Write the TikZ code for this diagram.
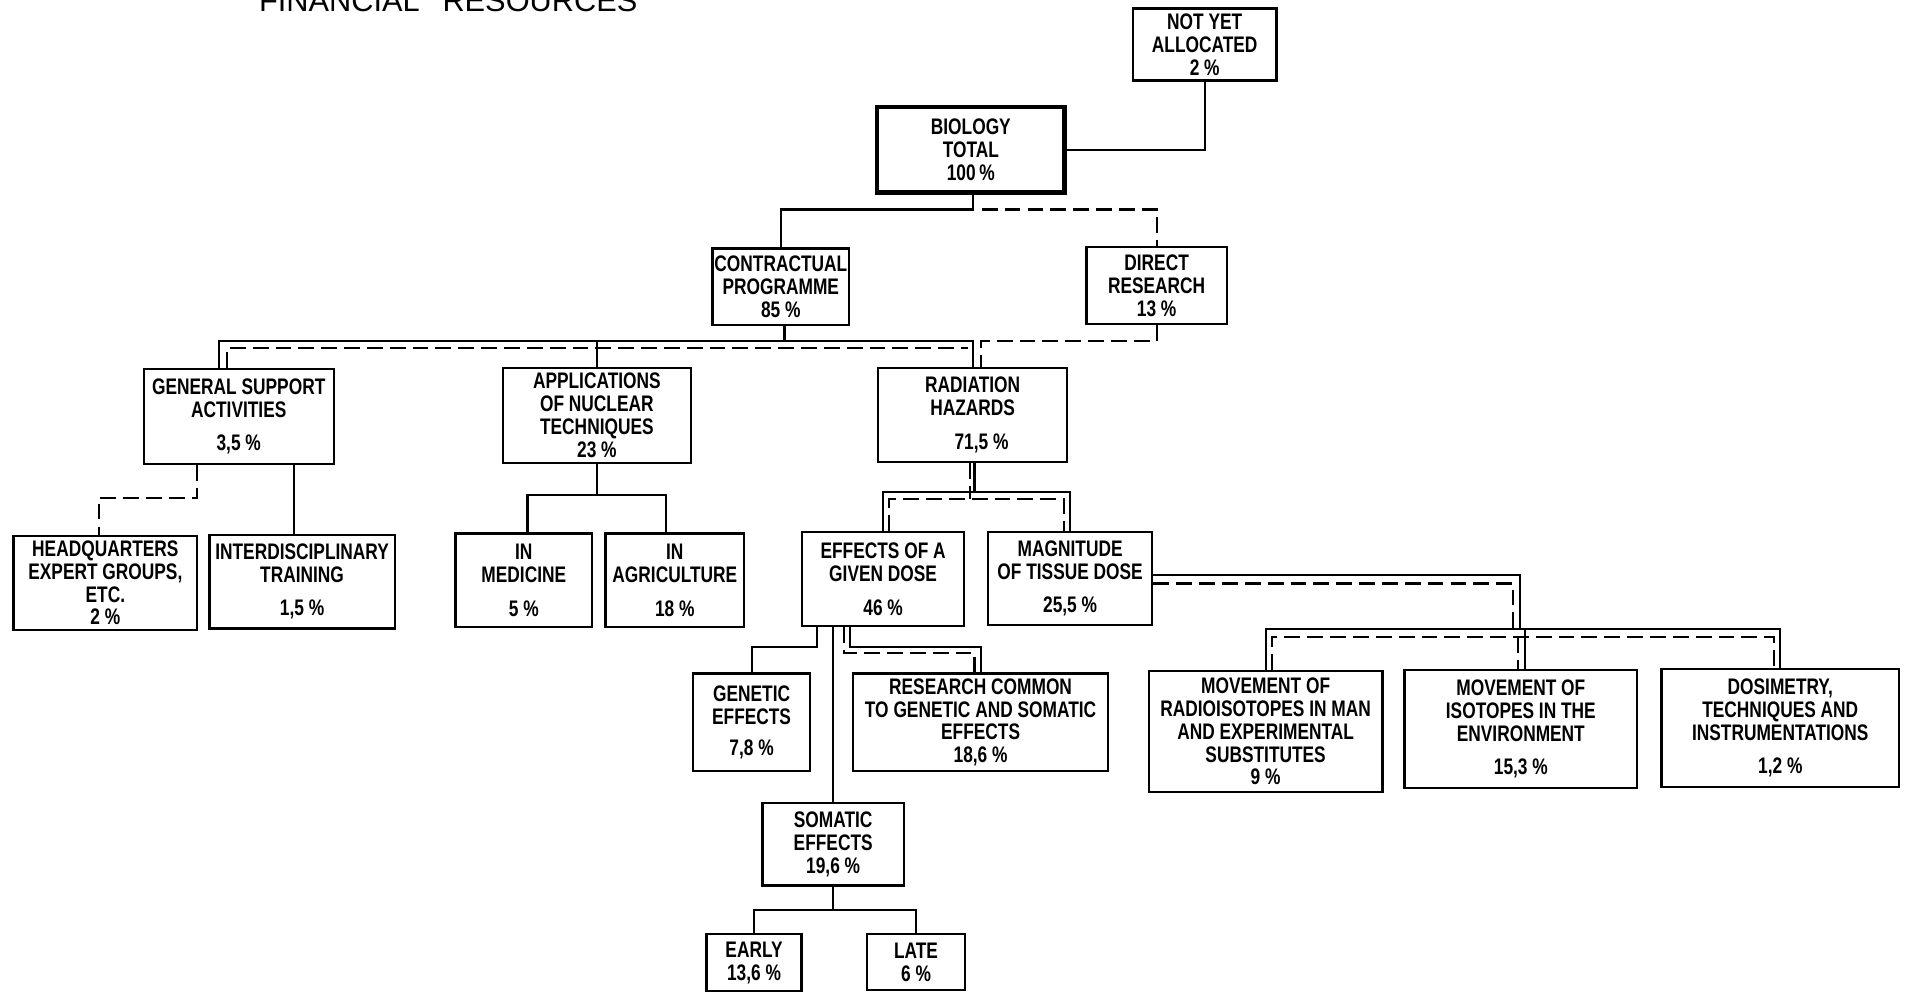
\documentclass[tikz,border=0pt]{standalone}
\usepackage{fontspec}
\setmainfont{Liberation Sans}[FakeStretch=0.77]
\newfontfamily\titlefont{Liberation Sans}
\usetikzlibrary{calc}

\begin{document}
\begin{tikzpicture}[x=0.2436mm, y=-0.2436mm,
  box/.style={draw, line width=1.3pt, align=center, inner sep=0pt,
    font=\fontsize{12.8}{13}\selectfont\bfseries},
  sz/.style 2 args={minimum width=#1*0.2436mm, minimum height=#2*0.2436mm},
  dsh/.style={dash pattern=on 9pt off 4pt},
  every path/.style={line width=1.2pt}]
\useasboundingbox[fill=white] (0,0) rectangle (1568,814);

\node[anchor=base west, font=\titlefont\fontsize{17.5}{18}\selectfont] (title) at (207,9.6) {FINANCIAL\hspace{13pt}RESOURCES};

% first levels
\node[box, sz={118}{59}] (nya) at (989,36.5) {NOT YET\\ALLOCATED\\2 \%};
\node[box, sz={154}{70}, line width=2.6pt] (bio) at (797,123) {BIOLOGY\\TOTAL\\100\,\%};
\node[box, sz={112}{63}] (contr) at (641,235.5) {CONTRACTUAL\\PROGRAMME\\85 \%};
\node[box, sz={115}{63}] (direct) at (949.5,234.5) {DIRECT\\RESEARCH\\13 \%};

\node[box, sz={156}{78}] (gsa) at (196,342) {GENERAL SUPPORT\\ACTIVITIES\\[6pt]3,5 \%};
\node[box, sz={154}{78}] (appl) at (490,341) {APPLICATIONS\\OF NUCLEAR\\TECHNIQUES\\23 \%};
\node[box, sz={155}{77}] (rad) at (798.5,340.5) {RADIATION\\HAZARDS\\[6pt]\hspace*{10pt}71,5 \%};

\node[box, sz={151}{77}] (hq) at (86.5,478.5) {HEADQUARTERS\\EXPERT GROUPS,\\ETC.\\2 \%};
\node[box, sz={152}{77}] (inter) at (248,477.5) {INTERDISCIPLINARY\\TRAINING\\[6pt]1,5 \%};
\node[box, sz={112}{77}] (med) at (430,476.5) {IN\\MEDICINE\\[6pt]5 \%};
\node[box, sz={114}{77}] (agr) at (554,476.5) {IN\\AGRICULTURE\\[6pt]18 \%};
\node[box, sz={133}{77}] (eff) at (725,475.5) {EFFECTS OF A\\GIVEN DOSE\\[6pt]46 \%};
\node[box, sz={135}{76}] (mag) at (878.5,475) {MAGNITUDE\\OF TISSUE DOSE\\[6pt]25,5 \%};

\node[box, sz={96}{80}] (gen) at (617,593) {GENETIC\\EFFECTS\\[5pt]7,8 \%};
\node[box, sz={209}{80}] (rc) at (805,593) {RESEARCH COMMON\\TO GENETIC AND SOMATIC\\EFFECTS\\18,6 \%};
\node[box, sz={192}{99}] (mr) at (1039,600.5) {MOVEMENT OF\\RADIOISOTOPES IN MAN\\AND EXPERIMENTAL\\SUBSTITUTES\\9 \%};
\node[box, sz={191}{97}] (mi) at (1248.5,598.5) {MOVEMENT OF\\ISOTOPES IN THE\\ENVIRONMENT\\[6pt]15,3 \%};
\node[box, sz={195}{97}] (dos) at (1461.5,597.5) {DOSIMETRY,\\TECHNIQUES AND\\INSTRUMENTATIONS\\[6pt]1,2 \%};

\node[box, sz={116}{68}] (som) at (684,693) {SOMATIC\\EFFECTS\\19,6 \%};
\node[box, sz={78}{47}] (early) at (619,790.5) {EARLY\\13,6 \%};
\node[box, sz={80}{46}] (late) at (752,790) {LATE\\6 \%};

% top
\draw (nya.south) |- (bio.east);
\coordinate (b1) at (799,172);
\draw (bio.south -| b1) -- (b1) -| (contr.north);
\coordinate (b2) at (806,172);
\draw[dsh] (b2) -| (direct.north);

\coordinate (c1) at (644,280);
\coordinate (c2) at (180,280);
\coordinate (c3) at (799,280);
\draw (contr.south -| c1) -- (c1);
\draw (c2 |- gsa.north) -- (c2) -- (c3) -- (c3 |- rad.north);
\draw (appl.north) -- (appl.north |- c2);
\coordinate (d1) at (805,280);
\draw[dsh] (direct.south) |- (d1) -- (d1 |- rad.north);
\coordinate (d2) at (186,286);
\coordinate (d3) at (795,286);
\draw[dsh] (d2 |- gsa.north) -- (d2) -- (d3);

% general support, applications
\coordinate (g1) at (162,409);
\coordinate (g2) at (81,409);
\draw[dsh] (g1 |- gsa.south) -- (g1) -- (g2) -- (g2 |- hq.north);
\coordinate (g3) at (241,410);
\draw (g3 |- gsa.south) -- (g3 |- inter.north);
\coordinate (a1) at (433,406);
\coordinate (a2) at (547,406);
\draw (appl.south) -- (appl.south |- a1);
\draw (a1 |- med.north) -- (a1) -- (a2) -- (a2 |- agr.north);

% radiation hazards
\coordinate (r1) at (800,404);
\draw (r1 |- rad.south) -- (r1);
\draw (eff.north) |- (r1) -| (mag.north);
\coordinate (r2) at (796,410);
\draw[dsh] (r2 |- rad.south) -- (r2);
\draw[dsh] ($(eff.north)+(5,0)$) |- (r2) -| ($(mag.north)+(-5,0)$);

% effects of a given dose
\coordinate (e1) at (671,531);
\draw (e1 |- eff.south) -- (e1) -| (gen.north);
\draw (som.north) -- (som.north |- eff.south);
\coordinate (e2) at (698,531);
\draw (e2 |- eff.south) -- (e2) -| (rc.north);
\coordinate (e3) at (693,536);
\draw[dsh] (e3 |- eff.south) -- (e3) -| ($(rc.north)+(-5,0)$);

% magnitude of tissue dose
\coordinate (m1) at (1248,472);
\coordinate (m2) at (1248,516);
\draw (mag.east |- m1) -- (m1) -- (m2);
\draw (mr.north) |- (m2) -| (dos.north);
\coordinate (m3) at (1252,516);
\draw (m3) -- (m3 |- mi.north);
\coordinate (m4) at (1242,479);
\draw[dsh] (mag.east |- m4) -- (m4) -- (m4 |- m2);
\coordinate (m5) at (1246,523);
\draw[dsh] ($(mr.north)+(5,0)$) |- (m5) -| ($(dos.north)+(-5,0)$);
\draw[dsh] (m5) -- (m5 |- mi.north);

% somatic
\coordinate (s1) at (684,747);
\draw (som.south) -- (s1);
\draw (early.north) |- (s1) -| (late.north);

\end{tikzpicture}
\end{document}
